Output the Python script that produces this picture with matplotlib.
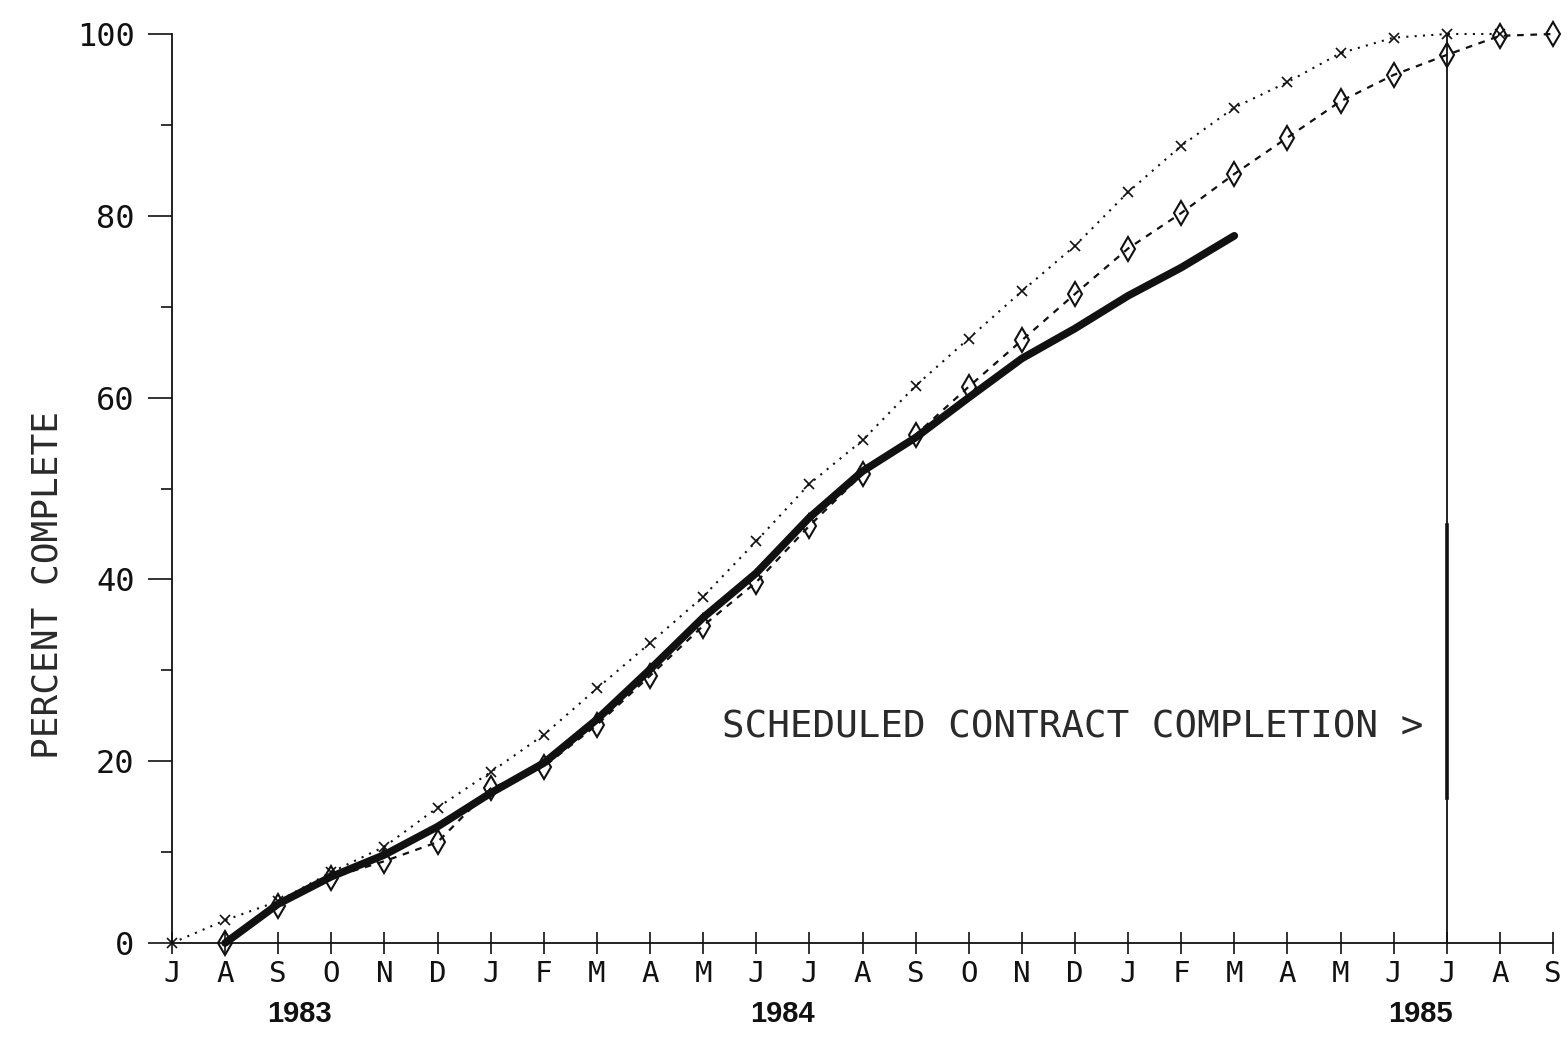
import numpy as np
import matplotlib
matplotlib.use("Agg")
import matplotlib.pyplot as plt
import matplotlib.transforms as mtransforms

# month letters, July 1983 .. September 1985
months = ["J", "A", "S", "O", "N", "D", "J", "F", "M", "A", "M", "J", "J",
          "A", "S", "O", "N", "D", "J", "F", "M", "A", "M", "J", "J", "A", "S"]
years = ["1983", "1984", "1985"]
year_month_idx = [2.4, 11.5, 23.5]

# early schedule (dotted, x markers), starts July 1983
early = [0, 2.5, 4.6, 7.8, 10.6, 14.9, 18.8, 22.9, 28.0, 33.0, 38.1, 44.2, 50.5,
         55.3, 61.3, 66.5, 71.7, 76.7, 82.6, 87.7, 91.9, 94.7, 97.9, 99.6, 100, 100]
# late schedule (dashed, diamonds), starts August 1983
late = [0, 4.1, 7.2, 9.0, 11.1, 17.0, 19.4, 24.0, 29.4, 34.9, 39.7, 45.9, 51.6,
        55.9, 61.2, 66.3, 71.4, 76.4, 80.3, 84.6, 88.6, 92.6, 95.5, 97.7, 99.8, 100]
# actual progress (heavy line), August 1983 .. March 1985
actual = [0, 4.3, 7.3, 9.7, 12.8, 16.5, 19.8, 24.6, 30.1, 35.8, 40.7, 46.8, 51.9,
          55.6, 60.0, 64.3, 67.6, 71.2, 74.3, 77.8]

completion_idx = 24  # July 1985
note = "SCHEDULED CONTRACT COMPLETION >"

ink = "#111111"
text_ink = "#2a2a2a"
mono = ["DejaVu Sans Mono"]

fig = plt.figure(figsize=(15.68, 10.37), dpi=100)
ax = fig.add_axes([172 / 1568, 1 - 943 / 1037, (1553 - 172) / 1568, (943 - 34) / 1037])

x_early = np.arange(len(early))
x_late = np.arange(1, 1 + len(late))
x_actual = np.arange(1, 1 + len(actual))

ax.plot(x_early, early, color=ink, lw=1.5, linestyle=(0, (1, 3)),
        marker="x", ms=7, mew=1.2, clip_on=False, zorder=3)
ax.plot(x_late, late, color=ink, lw=1.6, linestyle=(0, (3, 3)),
        marker="d", ms=12, mfc="none", mew=1.5, clip_on=False, zorder=3)
ax.plot(x_actual, actual, color=ink, lw=5.5, solid_capstyle="round",
        solid_joinstyle="round", clip_on=False, zorder=4)

# scheduled completion marker line
ax.plot([completion_idx, completion_idx], [0, 100], color=ink, lw=1.3, clip_on=False, zorder=2)
ax.plot([completion_idx, completion_idx], [16, 46], color=ink, lw=2.6, zorder=2)
ax.text(10.36, 23.7, note, fontsize=27, family=mono, color=text_ink,
        ha="left", va="center")

ax.set_xlim(0, len(months) - 1)
ax.set_ylim(0, 100)
ax.spines["top"].set_visible(False)
ax.spines["right"].set_visible(False)
for s in ("left", "bottom"):
    ax.spines[s].set_color(ink)
    ax.spines[s].set_linewidth(1.3)

ax.set_xticks(np.arange(len(months)))
ax.set_xticklabels(months, family=mono, fontsize=21, color=text_ink)
ax.tick_params(axis="x", direction="inout", length=16, width=1.2, pad=4, colors=ink)

ax.set_yticks(np.arange(0, 101, 20))
ax.set_yticklabels([str(v) for v in range(0, 101, 20)], family=mono, fontsize=23, color=text_ink)
ax.set_yticks(np.arange(10, 100, 20), minor=True)
ax.tick_params(axis="y", which="major", direction="out", length=17, width=1.2, pad=10, colors=ink)
ax.tick_params(axis="y", which="minor", direction="out", length=8, width=1.2, colors=ink)

fig.text(48 / 1568, 1 - 585 / 1037, "PERCENT COMPLETE", rotation=90, family=mono,
         fontsize=26, color=text_ink, ha="center", va="center")

trans = mtransforms.blended_transform_factory(ax.transData, ax.transAxes)
for idx, yr in zip(year_month_idx, years):
    ax.text(idx, -0.078, yr, transform=trans, fontsize=21, fontweight="bold",
            family=["Liberation Sans", "DejaVu Sans"], ha="center", va="center", color=ink)

fig.savefig("out.png", dpi=100, facecolor="white")
